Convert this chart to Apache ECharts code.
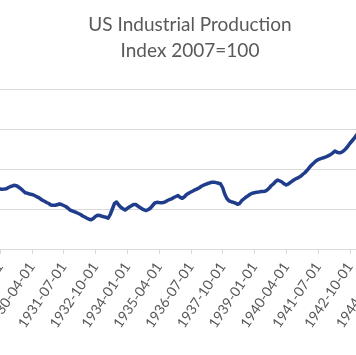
<!DOCTYPE html>
<html>
<head>
<meta charset="utf-8">
<script src="https://cdn.jsdelivr.net/npm/echarts@6/dist/echarts.min.js"></script>
<style>
html,body{margin:0;padding:0;background:#fff;}
#chart{width:356px;height:355px;}
</style>
</head>
<body>
<div id="chart"></div>
<script>
// Monthly US Industrial Production index (2007=100), 1929-01 .. 1944-01
var startYear = 1929;
var values1929 = [6.00,5.98,6.00,6.03,6.15,6.25,6.32,6.37,6.30,6.15,6.00,5.80];
var values1930 = [5.62,5.57,5.50,5.45,5.38,5.27,5.17,5.03,4.88,4.77,4.65,4.55];
var values1931 = [4.40,4.37,4.37,4.42,4.52,4.45,4.35,4.25,4.10,3.90,3.82,3.73];
var values1932 = [3.65,3.55,3.45,3.30,3.20,3.08,2.97,2.92,3.05,3.25,3.37,3.35];
var values1933 = [3.28,3.22,3.17,3.08,3.45,4.00,4.55,4.70,4.40,4.17,4.02,3.90];
var values1934 = [4.05,4.20,4.32,4.45,4.45,4.30,4.15,4.02,3.92,3.85,3.95,4.10];
var values1935 = [4.35,4.60,4.67,4.64,4.62,4.65,4.72,4.85,4.95,5.02,5.15,5.25];
var values1936 = [5.35,5.17,5.07,5.22,5.45,5.58,5.70,5.80,5.92,6.02,6.12,6.27];
var values1937 = [6.38,6.47,6.55,6.62,6.68,6.68,6.64,6.58,6.52,6.15,5.50,5.05];
var values1938 = [4.82,4.73,4.67,4.60,4.47,4.55,4.83,5.00,5.18,5.32,5.47,5.58];
var values1939 = [5.63,5.67,5.70,5.74,5.76,5.77,5.90,6.10,6.35,6.52,6.75,6.90];
var values1940 = [6.80,6.70,6.52,6.40,6.50,6.66,6.82,6.95,7.07,7.17,7.30,7.50];
var values1941 = [7.67,7.90,8.17,8.40,8.60,8.80,8.93,9.01,9.08,9.15,9.24,9.34];
var values1942 = [9.45,9.62,9.80,9.67,9.63,9.66,9.80,10.00,10.25,10.55,10.80,11.05];
var values1943 = [11.35,11.60,11.80,11.95,12.10,12.25,12.35,12.45,12.55,12.65,12.75,12.85];
var values1944 = [12.90];

var titleLines = ['US Industrial Production', 'Index 2007=100'];
var yTicks = [0, 4, 8, 12, 16];

var values = [].concat(values1929, values1930, values1931, values1932, values1933,
  values1934, values1935, values1936, values1937, values1938, values1939,
  values1940, values1941, values1942, values1943, values1944);

var categories = [];
for (var i = 0; i < values.length; i++) {
  var y = startYear + Math.floor(i / 12);
  var m = (i % 12) + 1;
  categories.push(y + '-' + (m < 10 ? '0' + m : m) + '-01');
}

var chart = echarts.init(document.getElementById('chart'), null, {renderer: 'canvas'});
var fontFam = 'Lato, "Open Sans", sans-serif';
chart.setOption({
  animation: false,
  backgroundColor: '#ffffff',
  graphic: [
    {type: 'text', x: 190, y: 25, style: {text: titleLines[0], fill: '#595959', font: '19px ' + fontFam, textAlign: 'center', textVerticalAlign: 'middle'}},
    {type: 'text', x: 190, y: 51, style: {text: titleLines[1], fill: '#595959', font: '19px ' + fontFam, textAlign: 'center', textVerticalAlign: 'middle'}}
  ],
  grid: {left: 0, top: 89, width: 381.6, bottom: 106, containLabel: false, outerBoundsMode: 'none'},
  xAxis: {
    type: 'category',
    data: categories,
    boundaryGap: false,
    axisLine: {show: true, lineStyle: {color: '#d9d9d9', width: 1}},
    axisTick: {show: true, interval: 14, length: 5, lineStyle: {color: '#d9d9d9'}},
    axisLabel: {interval: 14, rotate: 56, margin: 15, color: '#595959', fontSize: 14, fontFamily: fontFam, hideOverlap: false},
    splitLine: {show: false}
  },
  yAxis: {
    type: 'value',
    min: yTicks[0],
    max: yTicks[yTicks.length - 1],
    interval: yTicks[1] - yTicks[0],
    axisLine: {show: false},
    axisTick: {show: false},
    axisLabel: {show: false},
    splitLine: {show: true, lineStyle: {color: '#d9d9d9', width: 1}}
  },
  series: [{
    type: 'line',
    data: values,
    showSymbol: false,
    symbol: 'none',
    lineStyle: {color: '#1f3d8a', width: 3.5, join: 'round', cap: 'round'},
    smooth: false
  }]
});
</script>
</body>
</html>
